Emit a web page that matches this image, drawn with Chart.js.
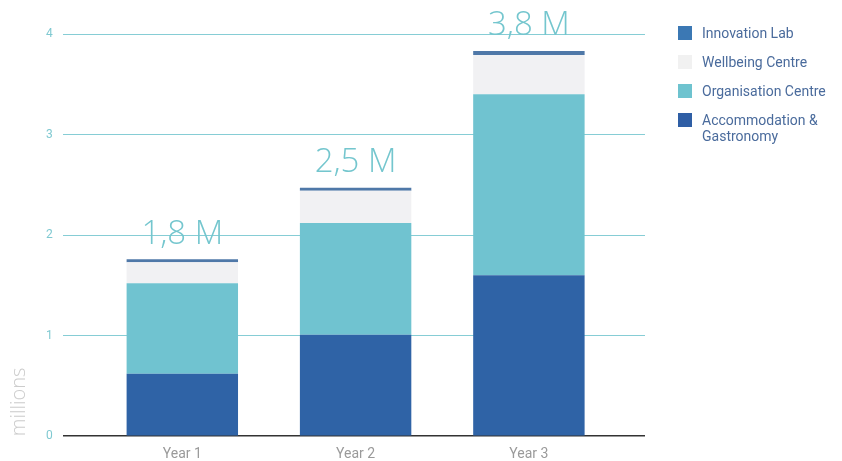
<!DOCTYPE html>
<html>
<head>
<meta charset="utf-8">
<script src="https://cdn.jsdelivr.net/npm/chart.js@4.4.0/dist/chart.umd.min.js"></script>
<style>
    html, body { margin: 0; padding: 0; background: #fff; }
    #wrap { position: relative; width: 842px; height: 461px; }
    #legend { position: absolute; left: 678px; top: 25px; font-family: Roboto, sans-serif; font-size: 14px; color: #4a6b9c; }
    #legend .item { display: flex; align-items: flex-start; margin-bottom: 13px; line-height: 16px; }
    #legend .box { width: 14px; height: 14px; margin-right: 10px; margin-top: 1px; flex: none; }
</style>
</head>
<body>
<div id="wrap">
    <canvas id="chart" width="842" height="461"></canvas>
    <div id="legend"></div>
</div>
<script>
// Данные графика
const years = ['Year 1', 'Year 2', 'Year 3'];
const accommodation = [0.62, 1.01, 1.60];
const organisation = [0.90, 1.11, 1.80];
const wellbeing = [0.21, 0.32, 0.39];
const innovation = [0.03, 0.03, 0.04];
const yTicks = [0, 1, 2, 3, 4];

// Серии снизу вверх
const series = [
    { label: 'Accommodation & Gastronomy', data: accommodation, color: '#2f63a6', legendColor: '#2f5ea5' },
    { label: 'Organisation Centre', data: organisation, color: '#70c3d0', legendColor: '#6ec3cf' },
    { label: 'Wellbeing Centre', data: wellbeing, color: '#f1f1f3', legendColor: '#f1f1f1' },
    { label: 'Innovation Lab', data: innovation, color: '#4f78a8', legendColor: '#3b78b4' }
];

// Подписи итогов над столбцами
const totalsPlugin = {
    id: 'totals',
    afterDatasetsDraw(chart) {
        const ctx = chart.ctx;
        const xScale = chart.scales.x;
        const yScale = chart.scales.y;
        ctx.save();
        ctx.font = '300 33px "Open Sans", sans-serif';
        ctx.fillStyle = '#74c6ce';
        ctx.textAlign = 'center';
        ctx.textBaseline = 'middle';
        years.forEach((y, i) => {
            const total = series.reduce((s, d) => s + d.data[i], 0);
            const text = total.toFixed(1).replace('.', ',') + ' M';
            ctx.fillText(text, xScale.getPixelForValue(i), yScale.getPixelForValue(total) - 25);
        });
        ctx.restore();
    }
};

const chart = new Chart(document.getElementById('chart'), {
    type: 'bar',
    data: {
        datasets: series.map(s => ({
            label: s.label,
            data: s.data.map((v, i) => ({ x: i, y: v })),
            backgroundColor: s.color,
            borderWidth: 0,
            categoryPercentage: 1,
            barPercentage: 0.643
        }))
    },
    options: {
        responsive: false,
        animation: false,
        layout: { padding: { top: 34, right: 197, left: 3, bottom: -4 } },
        plugins: {
            legend: { display: false },
            tooltip: { enabled: false }
        },
        scales: {
            x: {
                type: 'linear',
                stacked: true,
                offset: false,
                min: -0.69,
                max: 2.67,
                afterBuildTicks: axis => { axis.ticks = years.map((y, i) => ({ value: i })); },
                grid: { display: false },
                border: { display: false },
                ticks: {
                    color: '#9a9a9a',
                    font: { family: 'Roboto', size: 14 },
                    padding: 2,
                    callback: v => years[v]
                }
            },
            y: {
                stacked: true,
                min: 0,
                max: 4,
                afterBuildTicks: axis => { axis.ticks = yTicks.map(v => ({ value: v })); },
                border: { display: false },
                grid: {
                    color: ctx => ctx.tick && ctx.tick.value === 0 ? '#333333' : '#86cdd5',
                    lineWidth: ctx => ctx.tick && ctx.tick.value === 0 ? 1.5 : 1,
                    drawTicks: false
                },
                ticks: { color: '#7fc9d1', font: { family: 'Roboto', size: 12 }, padding: 10 },
                title: {
                    display: true,
                    text: 'millions',
                    align: 'start',
                    color: '#cccccc',
                    font: { family: 'Open Sans', size: 20, weight: 300 },
                    padding: { bottom: 5 }
                }
            }
        }
    },
    plugins: [totalsPlugin]
});

// Легенда справа (в обратном порядке)
const legend = document.getElementById('legend');
series.slice().reverse().forEach(s => {
    const item = document.createElement('div');
    item.className = 'item';
    const text = s.label === 'Accommodation & Gastronomy' ? 'Accommodation &amp;<br>Gastronomy' : s.label;
    item.innerHTML = `<span class="box" style="background:${s.legendColor}"></span><span>${text}</span>`;
    legend.appendChild(item);
});
</script>
</body>
</html>
